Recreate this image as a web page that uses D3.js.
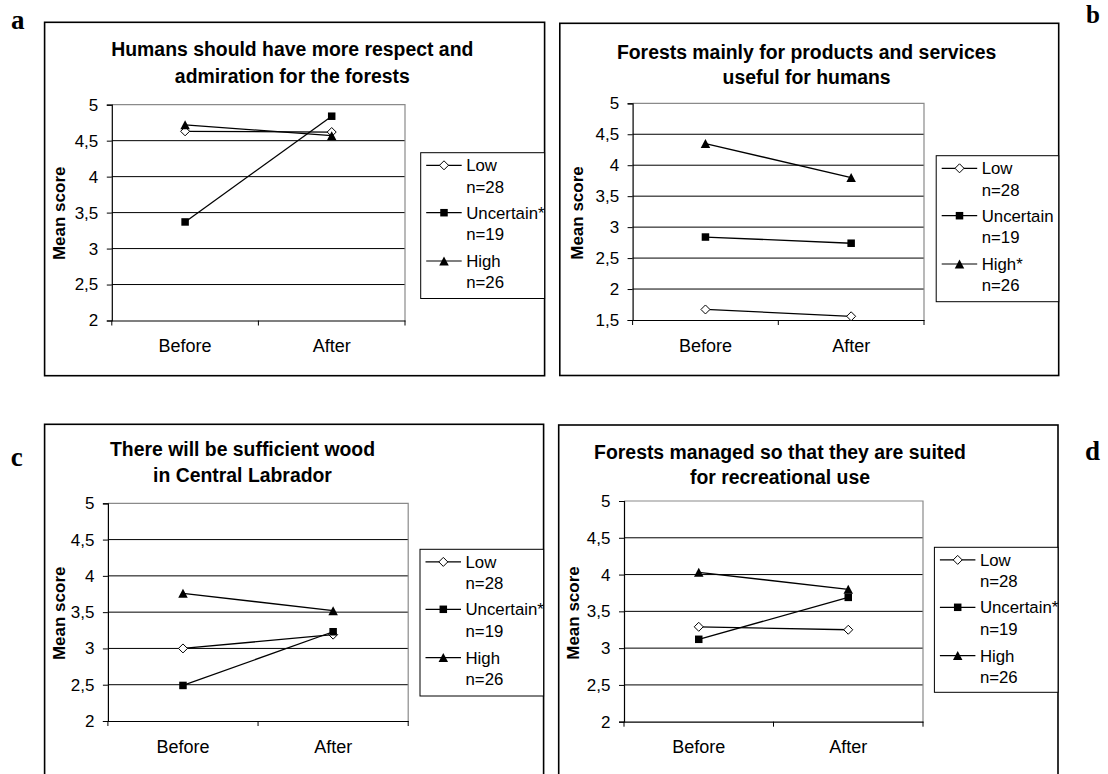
<!DOCTYPE html>
<html>
<head>
<meta charset="utf-8">
<script src="https://cdn.jsdelivr.net/npm/d3@7"></script>
<style>
  html, body { margin: 0; padding: 0; background: #fff; }
  svg { display: block; }
</style>
</head>
<body>
<svg id="chart" width="1108" height="774"></svg>
<script>
// ---------------- DATA ----------------
const categories = ["Before", "After"];
const seriesNames = ["Low", "Uncertain", "High"];
const sampleSizes = ["n=28", "n=19", "n=26"];
const panelLetters = ["a", "b", "c", "d"];
const panelTitles = [
  ["Humans should have more respect and", "admiration for the forests"],
  ["Forests mainly for products and services", "useful for humans"],
  ["There will be sufficient wood", "in Central Labrador"],
  ["Forests managed so that they are suited", "for recreational use"]
];
const legendLabels = [
  ["Low", "Uncertain*", "High"],
  ["Low", "Uncertain", "High*"],
  ["Low", "Uncertain*", "High"],
  ["Low", "Uncertain*", "High"]
];
const yAxisLabel = "Mean score";
const yTickValues = [
  [2, 2.5, 3, 3.5, 4, 4.5, 5],
  [1.5, 2, 2.5, 3, 3.5, 4, 4.5, 5],
  [2, 2.5, 3, 3.5, 4, 4.5, 5],
  [2, 2.5, 3, 3.5, 4, 4.5, 5]
];
const lowValues       = [[4.63, 4.62], [1.67, 1.56], [3.00, 3.19], [3.29, 3.25]];
const uncertainValues = [[3.37, 4.84], [2.84, 2.74], [2.49, 3.23], [3.12, 3.69]];
const highValues      = [[4.72, 4.57], [4.35, 3.80], [3.76, 3.52], [4.03, 3.80]];

// ---------------- LAYOUT ----------------
const layout = [
  { frame: [44.6, 22.3, 544.6, 375.7], plot: [111.8, 104.7, 405, 320.5], titleX: 292.3, titleY: [49.3, 76],
    legend: [420.7, 152.7, 544.6, 298.5], yLabel: [58.8, 213.3], letter: { x: 11, y: 29.3, anchor: "start", size: 27 } },
  { frame: [559.8, 23.3, 1058.7, 375.5], plot: [632.6, 103.3, 924, 320], titleX: 806.6, titleY: [51.7, 77.3],
    legend: [936.2, 155.7, 1058.7, 301.7], yLabel: [577.3, 213], letter: { x: 1093, y: 22.5, anchor: "middle", size: 25 } },
  { frame: [44.6, 424.3, 543.6, 790], plot: [107.9, 503.3, 408.2, 721], titleX: 242.5, titleY: [449, 475],
    legend: [420, 549.3, 543.6, 696], yLabel: [59, 613.3], letter: { x: 10.7, y: 465.7, anchor: "start", size: 27 } },
  { frame: [558.7, 425, 1058, 790], plot: [624, 501, 923, 721.7], titleX: 780, titleY: [451.7, 477.3],
    legend: [934.4, 547.3, 1058, 692.3], yLabel: [573, 613], letter: { x: 1092.6, y: 460, anchor: "middle", size: 27 } }
];
const legendRowOffsets = [12.6, 60, 108.3];
const legendLineGap = 21.4;

const FONT = "'Liberation Sans', Arial, sans-serif";
const svg = d3.select("#chart");
svg.append("rect").attr("width", 1108).attr("height", 774).attr("fill", "#fff");

function drawMarker(g, type, cx, cy) {
  if (type === 0) {
    const r = 4.5;
    g.append("path")
      .attr("d", `M${cx},${cy - r}L${cx + r},${cy}L${cx},${cy + r}L${cx - r},${cy}Z`)
      .attr("fill", "#fff").attr("stroke", "#000").attr("stroke-width", 1);
  } else if (type === 1) {
    const s = 7.5;
    g.append("rect").attr("x", cx - s / 2).attr("y", cy - s / 2)
      .attr("width", s).attr("height", s).attr("fill", "#000");
  } else {
    const w = 9.5, h = 9;
    g.append("path")
      .attr("d", `M${cx},${cy - h / 2}L${cx + w / 2},${cy + h / 2}L${cx - w / 2},${cy + h / 2}Z`)
      .attr("fill", "#000");
  }
}

panelLetters.forEach((letter, i) => {
  const L = layout[i];
  const g = svg.append("g").attr("font-family", FONT);

  // outer frame
  g.append("rect")
    .attr("x", L.frame[0]).attr("y", L.frame[1])
    .attr("width", L.frame[2] - L.frame[0]).attr("height", L.frame[3] - L.frame[1])
    .attr("fill", "none").attr("stroke", "#000").attr("stroke-width", 1.6);

  // panel letter
  svg.append("text")
    .attr("x", L.letter.x).attr("y", L.letter.y)
    .attr("text-anchor", L.letter.anchor)
    .attr("font-family", "'Liberation Serif', 'Times New Roman', serif")
    .attr("font-weight", "bold").attr("font-size", L.letter.size)
    .text(letter);

  // title
  panelTitles[i].forEach((line, k) => {
    g.append("text")
      .attr("x", L.titleX).attr("y", L.titleY[k] + 6.9)
      .attr("text-anchor", "middle")
      .attr("font-weight", "bold").attr("font-size", 19.4)
      .text(line);
  });

  const [pl, pt, pr, pb] = L.plot;
  const x = d3.scaleBand().domain(categories).range([pl, pr]).padding(0);
  const yt = yTickValues[i];
  const y = d3.scaleLinear().domain([yt[0], yt[yt.length - 1]]).range([pb, pt]);

  // gridlines (inner)
  g.append("g").selectAll("line")
    .data(yt.slice(1, -1)).join("line")
    .attr("x1", pl).attr("x2", pr)
    .attr("y1", d => y(d)).attr("y2", d => y(d))
    .attr("stroke", "#000").attr("stroke-width", 1);

  // plot area top/right border (grey)
  g.append("path")
    .attr("d", `M${pl},${y(yt[yt.length - 1])}H${pr}V${pb}`)
    .attr("fill", "none").attr("stroke", "#8a8a8a").attr("stroke-width", 1.2);

  // y axis
  const yAxis = g.append("g").attr("transform", `translate(${pl},0)`)
    .call(d3.axisLeft(y).tickValues(yt).tickSize(5).tickPadding(8.5)
      .tickFormat(d => String(d).replace(".", ",")));
  yAxis.select(".domain").attr("stroke", "#000").attr("stroke-width", 1.2);
  yAxis.selectAll(".tick line").attr("stroke", "#000");
  yAxis.selectAll(".tick text").attr("font-family", FONT).attr("font-size", 17).attr("fill", "#000");

  // x axis
  const xAxis = g.append("g").attr("transform", `translate(0,${pb})`)
    .call(d3.axisBottom(x).tickSize(0).tickPadding(19));
  xAxis.select(".domain").attr("stroke", "#000").attr("stroke-width", 1.2);
  xAxis.selectAll(".tick text").attr("font-family", FONT).attr("font-size", 18).attr("fill", "#000");
  const boundaries = [x(categories[0])].concat(categories.map(c => x(c) + x.bandwidth()));
  g.append("g").selectAll("line").data(boundaries).join("line")
    .attr("x1", d => d).attr("x2", d => d)
    .attr("y1", pb).attr("y2", pb + 5)
    .attr("stroke", "#000").attr("stroke-width", 1);

  // y label
  g.append("text")
    .attr("transform", `translate(${L.yLabel[0]},${L.yLabel[1]}) rotate(-90)`)
    .attr("text-anchor", "middle").attr("dy", "0.36em")
    .attr("font-weight", "bold").attr("font-size", 17)
    .text(yAxisLabel);

  // series
  const seriesData = [lowValues[i], uncertainValues[i], highValues[i]];
  const line = d3.line().x((d, k) => x(categories[k]) + x.bandwidth() / 2).y(d => y(d));
  seriesData.forEach(vals => {
    g.append("path").datum(vals).attr("d", line)
      .attr("fill", "none").attr("stroke", "#000").attr("stroke-width", 1.3);
  });
  seriesData.forEach((vals, s) => {
    vals.forEach((v, k) => drawMarker(g, s, x(categories[k]) + x.bandwidth() / 2, y(v)));
  });

  // legend
  const [lx0, ly0, lx1, ly1] = L.legend;
  g.append("rect")
    .attr("x", lx0).attr("y", ly0).attr("width", lx1 - lx0).attr("height", ly1 - ly0)
    .attr("fill", "#fff").attr("stroke", "#000").attr("stroke-width", 1);
  seriesNames.forEach((name, s) => {
    const ry = ly0 + legendRowOffsets[s];
    g.append("line").attr("x1", lx0 + 5.5).attr("x2", lx0 + 41).attr("y1", ry).attr("y2", ry)
      .attr("stroke", "#000").attr("stroke-width", 1.2);
    drawMarker(g, s, lx0 + 23.3, ry);
    g.append("text").attr("x", lx0 + 45.5).attr("y", ry + 6)
      .attr("font-size", 16.8).text(legendLabels[i][s]);
    g.append("text").attr("x", lx0 + 45.5).attr("y", ry + legendLineGap + 6)
      .attr("font-size", 16.8).text(sampleSizes[s]);
  });
});
</script>
</body>
</html>
